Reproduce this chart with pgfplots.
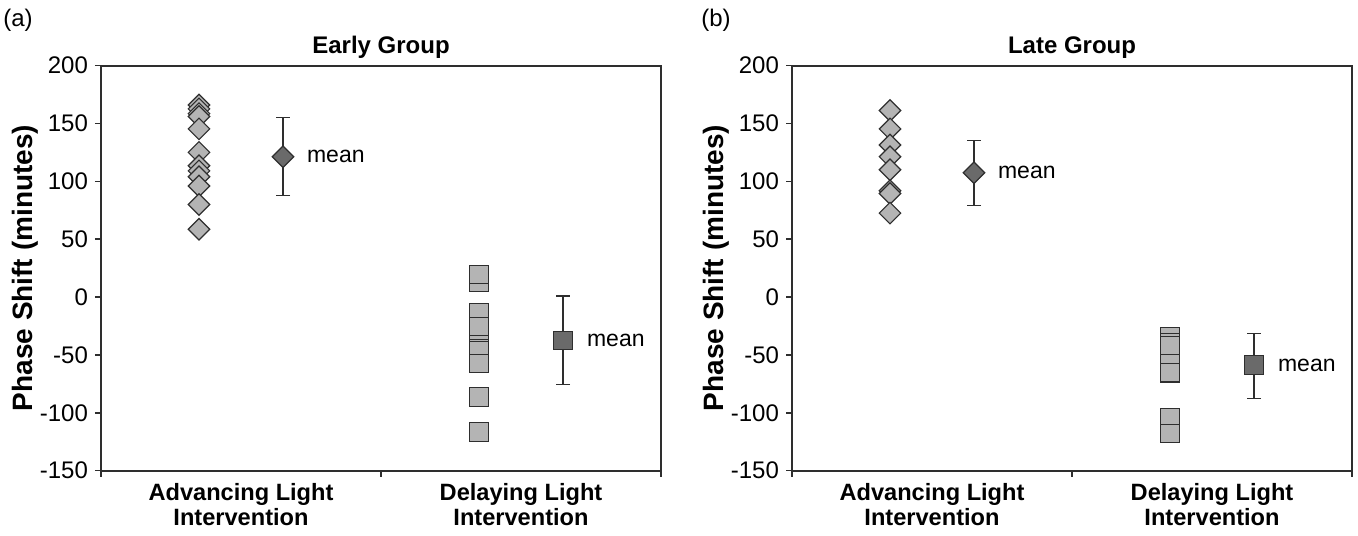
\documentclass[border=0pt]{standalone}
\usepackage{fontspec}
\setmainfont{Liberation Sans}
\usepackage{pgfplots}
\pgfplotsset{compat=1.18}
\definecolor{lightg}{HTML}{B4B4B4}
\definecolor{darkg}{HTML}{6A6A6A}
\definecolor{edge}{HTML}{2E2E2E}
\pgfplotsset{panel/.style={
  width=280pt, height=202.5pt, scale only axis,
  xmin=0, xmax=2, ymin=-150, ymax=200,
  ytick={-150,-100,...,200},
  xtick={0,1,2}, xticklabels={},
  extra x ticks={0.5,1.5},
  extra x tick labels={{Advancing Light\\Intervention},{Delaying Light\\Intervention}},
  extra x tick style={major tick length=0pt, xticklabel style={font=\fontsize{11.8}{12.5}\selectfont\bfseries, align=center, yshift=-3pt}},
  tick align=outside, tick pos=left, major tick length=3pt,
  axis line style={edge, line width=1pt},
  every tick/.style={edge, line width=0.8pt},
  tick label style={font=\fontsize{12}{13}\selectfont},
  /pgf/number format/assume math mode=true,
  clip=false,
}}
\pgfplotsset{
  pts/.style={only marks, mark=square*, mark size=3.8pt, mark options={rotate=45, fill=lightg, draw=edge, line width=0.6pt}},
  sqs/.style={only marks, mark=square*, mark size=4.6pt, mark options={fill=lightg, draw=edge, line width=0.6pt}},
  meand/.style={only marks, mark=square*, mark size=3.8pt, mark options={rotate=45, fill=darkg, draw=edge, line width=0.6pt},
    error bars/.cd, y dir=both, y explicit, error bar style={edge, line width=0.6pt},
    error mark options={rotate=90, mark size=3.5pt, edge, line width=0.6pt}},
  means/.style={only marks, mark=square*, mark size=4.6pt, mark options={fill=darkg, draw=edge, line width=0.6pt},
    error bars/.cd, y dir=both, y explicit, error bar style={edge, line width=0.6pt},
    error mark options={rotate=90, mark size=3.5pt, edge, line width=0.6pt}},
}
\begin{document}
\begin{tikzpicture}
\useasboundingbox (0,0) rectangle (679pt,267.5pt);
\node[font=\fontsize{12}{14}\selectfont] at (9pt,257.5pt) {(a)};
\node[font=\fontsize{12}{14}\selectfont] at (358pt,257.5pt) {(b)};
% Early group
\begin{axis}[panel, at={(50.5pt,32.2pt)}, anchor=south west]
\addplot[pts] coordinates {(0.35,166) (0.35,162.6) (0.35,158.5) (0.35,156) (0.35,145.3) (0.35,125) (0.35,113.5) (0.35,109) (0.35,104) (0.35,96) (0.35,80) (0.35,58.6)};
\addplot[sqs] coordinates {(1.35,13) (1.35,19.3) (1.35,-13.6) (1.35,-25.7) (1.35,-41) (1.35,-45) (1.35,-46.7) (1.35,-57.5) (1.35,-86.4) (1.35,-116.7)};
\addplot[meand] coordinates {(0.65,121.3) += (0,33.7) -= (0,33.4)};
\addplot[means] coordinates {(1.65,-37.4) += (0,38.3) -= (0,38.1)};
\node[anchor=west, font=\fontsize{11.5}{13}\selectfont] at ([xshift=8.5pt]axis cs:0.65,121.3) {mean};
\node[anchor=west, font=\fontsize{11.5}{13}\selectfont] at ([xshift=8.5pt]axis cs:1.65,-37.4) {mean};
\node[font=\fontsize{12}{14}\selectfont\bfseries] at ([yshift=9pt]rel axis cs:0.5,1) {Early Group};
\node[rotate=90, font=\fontsize{14}{16}\selectfont\bfseries] at ([xshift=-38pt]rel axis cs:0,0.5) {Phase Shift (minutes)};
\end{axis}
% Late group
\begin{axis}[panel, at={(396pt,32.2pt)}, anchor=south west]
\addplot[pts] coordinates {(0.35,161.2) (0.35,145.3) (0.35,131.4) (0.35,121.3) (0.35,110) (0.35,91.8) (0.35,89.5) (0.35,72.5)};
\addplot[sqs] coordinates {(1.35,-34.3) (1.35,-39.2) (1.35,-42.1) (1.35,-57.9) (1.35,-65.4) (1.35,-104.3) (1.35,-118)};
\addplot[meand] coordinates {(0.65,107.4) += (0,28) -= (0,28.1)};
\addplot[means] coordinates {(1.65,-58.8) += (0,27.4) -= (0,28.8)};
\node[anchor=west, font=\fontsize{11.5}{13}\selectfont] at ([xshift=8.5pt]axis cs:0.65,107.4) {mean};
\node[anchor=west, font=\fontsize{11.5}{13}\selectfont] at ([xshift=8.5pt]axis cs:1.65,-58.8) {mean};
\node[font=\fontsize{12}{14}\selectfont\bfseries] at ([yshift=9pt]rel axis cs:0.5,1) {Late Group};
\node[rotate=90, font=\fontsize{14}{16}\selectfont\bfseries] at ([xshift=-38pt]rel axis cs:0,0.5) {Phase Shift (minutes)};
\end{axis}
\end{tikzpicture}
\end{document}
